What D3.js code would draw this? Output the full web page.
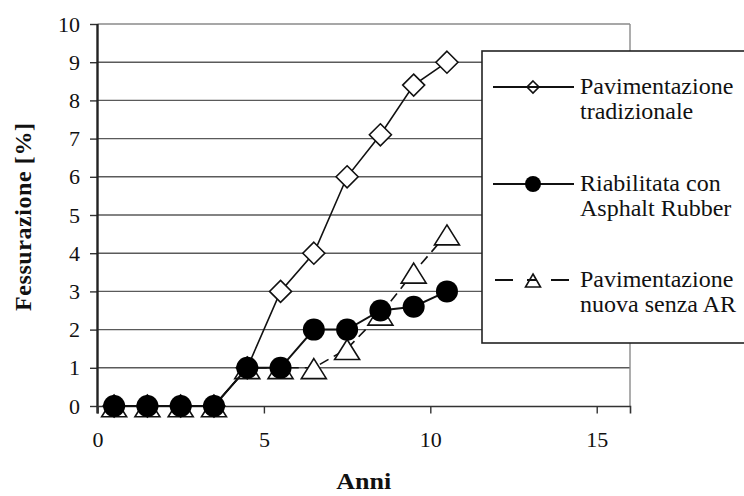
<!DOCTYPE html>
<html>
<head>
<meta charset="utf-8">
<script src="https://cdn.jsdelivr.net/npm/d3@7"></script>
<style>
  html, body { margin: 0; padding: 0; background: #fff; }
  svg { display: block; }
  text { font-family: "Liberation Serif", "Times New Roman", serif; fill: #111; }
</style>
</head>
<body>
<svg id="chart" width="744" height="496"></svg>
<script>
// ---- data ----
const years = [0.5, 1.5, 2.5, 3.5, 4.5, 5.5, 6.5, 7.5, 8.5, 9.5, 10.5];
const tradizionale = [0, 0, 0, 0, 1, 3, 4, 6, 7.1, 8.4, 9];
const asphaltRubber = [0, 0, 0, 0, 1, 1, 2, 2, 2.5, 2.6, 3];
const nuovaSenzaAR = [0, 0, 0, 0, 1, 1, 1, 1.5, 2.4, 3.5, 4.5];
const seriesNames = [["Pavimentazione", "tradizionale"], ["Riabilitata con", "Asphalt Rubber"], ["Pavimentazione", "nuova senza AR"]];
const xTicks = [0, 5, 10, 15];
const yTicks = [0, 1, 2, 3, 4, 5, 6, 7, 8, 9, 10];
const xTitle = "Anni";
const yTitle = "Fessurazione [%]";

// ---- layout ----
const svg = d3.select("#chart");
const x = d3.scaleLinear().domain([0, 16]).range([97.5, 630]);
const y = d3.scaleLinear().domain([0, 10]).range([406, 24]);

// gridlines
svg.append("g").selectAll("line").data(yTicks.filter(d => d > 0)).join("line")
  .attr("x1", x(0)).attr("x2", x(16))
  .attr("y1", d => y(d)).attr("y2", d => y(d))
  .attr("stroke", d => d === 10 ? "#8a8a8a" : "#5a5a5a").attr("stroke-width", 1.4);
// right frame
svg.append("line").attr("x1", x(16)).attr("x2", x(16)).attr("y1", y(10)).attr("y2", y(0))
  .attr("stroke", "#8a8a8a").attr("stroke-width", 1.4);

// y axis
const yAxis = svg.append("g").attr("transform", `translate(${x(0)},0)`)
  .call(d3.axisLeft(y).tickValues(yTicks).tickSize(7.5).tickPadding(10).tickFormat(d3.format("d")));
yAxis.select(".domain").remove();
yAxis.selectAll(".tick line").attr("stroke", "#333").attr("stroke-width", 1.4);
yAxis.selectAll(".tick text").attr("font-size", 22).attr("font-family", "Liberation Serif").attr("fill", "#111");
svg.append("line").attr("x1", x(0)).attr("x2", x(0)).attr("y1", y(10)).attr("y2", y(0) + 7.5)
  .attr("stroke", "#222").attr("stroke-width", 2.4);

// x axis
const xAxis = svg.append("g").attr("transform", `translate(0,${y(0)})`)
  .call(d3.axisBottom(x).tickValues(xTicks).tickSize(7.5).tickPadding(18).tickFormat(d3.format("d")));
xAxis.select(".domain").attr("stroke", "#333").attr("stroke-width", 1.6);
xAxis.selectAll(".tick line").attr("stroke", "#333").attr("stroke-width", 1.4);
xAxis.selectAll(".tick").filter(d => d === 0).select("line").remove();
xAxis.selectAll(".tick text").attr("font-size", 22).attr("font-family", "Liberation Serif").attr("fill", "#111");

// axis titles
svg.append("text").attr("x", x(8)).attr("y", 489).attr("text-anchor", "middle")
  .attr("font-size", 23).attr("font-weight", "bold").attr("textLength", 55).attr("lengthAdjust", "spacingAndGlyphs")
  .text(xTitle);
svg.append("text").attr("transform", `translate(31,${217}) rotate(-90)`).attr("text-anchor", "middle")
  .attr("font-size", 24).attr("font-weight", "bold").attr("textLength", 188).attr("lengthAdjust", "spacing")
  .text(yTitle);

// ---- series ----
const diamond = s => `M0,${-s}L${s},0L0,${s}L${-s},0Z`;
const triangle = (w, h) => `M0,${-h * 0.46}L${w / 2},${h * 0.54}L${-w / 2},${h * 0.54}Z`;
const line = d3.line().x(d => x(d[0])).y(d => y(d[1]));

function pts(vals) { return years.map((yr, i) => [yr, vals[i]]); }

// series 1: diamonds
const s1 = pts(tradizionale);
svg.append("path").attr("d", line(s1)).attr("fill", "none").attr("stroke", "#111").attr("stroke-width", 1.6);
svg.append("g").selectAll("path").data(s1).join("path")
  .attr("transform", d => `translate(${x(d[0])},${y(d[1])})`)
  .attr("d", diamond(11)).attr("fill", "#fff").attr("stroke", "#111").attr("stroke-width", 1.6);

// series 3: triangles, dashed
const s3 = pts(nuovaSenzaAR);
svg.append("path").attr("d", line(s3)).attr("fill", "none").attr("stroke", "#111").attr("stroke-width", 1.6)
  .attr("stroke-dasharray", "10,6");
svg.append("g").selectAll("path").data(s3).join("path")
  .attr("transform", d => `translate(${x(d[0])},${y(d[1])})`)
  .attr("d", triangle(25, 20)).attr("fill", "#fff").attr("stroke", "#111").attr("stroke-width", 1.6);

// series 2: circles
const s2 = pts(asphaltRubber);
svg.append("path").attr("d", line(s2)).attr("fill", "none").attr("stroke", "#111").attr("stroke-width", 2);
svg.append("g").selectAll("circle").data(s2).join("circle")
  .attr("cx", d => x(d[0])).attr("cy", d => y(d[1])).attr("r", 11).attr("fill", "#000");

// ---- legend ----
const lg = svg.append("g");
lg.append("rect").attr("x", 482).attr("y", 51).attr("width", 300).attr("height", 292)
  .attr("fill", "#fff").attr("stroke", "#222").attr("stroke-width", 1.6);
const legendY = [87, 184, 280];
// entry 1
lg.append("line").attr("x1", 493).attr("x2", 574).attr("y1", legendY[0]).attr("y2", legendY[0])
  .attr("stroke", "#111").attr("stroke-width", 1.8);
lg.append("path").attr("transform", `translate(533,${legendY[0]})`).attr("d", diamond(6))
  .attr("fill", "none").attr("stroke", "#111").attr("stroke-width", 1.6);
// entry 2
lg.append("line").attr("x1", 493).attr("x2", 574).attr("y1", legendY[1]).attr("y2", legendY[1])
  .attr("stroke", "#111").attr("stroke-width", 2);
lg.append("circle").attr("cx", 533).attr("cy", legendY[1]).attr("r", 8).attr("fill", "#000");
// entry 3
lg.append("line").attr("x1", 495).attr("x2", 569).attr("y1", legendY[2]).attr("y2", legendY[2])
  .attr("stroke", "#111").attr("stroke-width", 2).attr("stroke-dasharray", "18,14,10,14,18");
lg.append("path").attr("transform", `translate(533,${legendY[2]})`).attr("d", triangle(15, 13))
  .attr("fill", "none").attr("stroke", "#111").attr("stroke-width", 1.6);

seriesNames.forEach((lines, i) => {
  lines.forEach((t, j) => {
    lg.append("text").attr("x", 580).attr("y", legendY[i] + 7 + j * 25)
      .attr("font-size", 24).text(t);
  });
});
</script>
</body>
</html>
